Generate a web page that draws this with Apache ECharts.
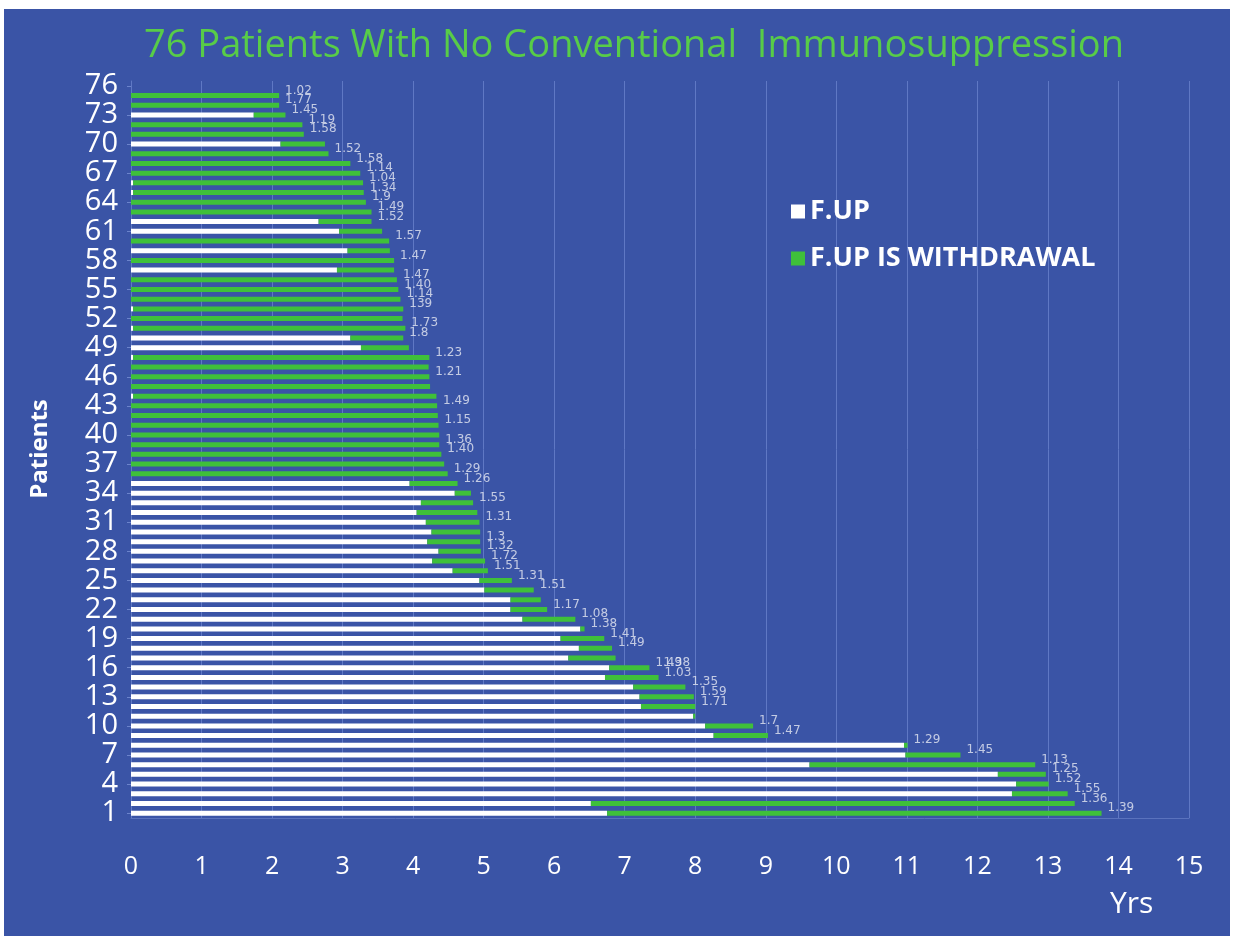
<!DOCTYPE html>
<html>
<head>
<meta charset="utf-8">
<script src="https://cdn.jsdelivr.net/npm/echarts@6/dist/echarts.min.js"></script>
<style>
  html, body { margin: 0; padding: 0; background: #ffffff; width: 1239px; height: 937px; overflow: hidden; }
  #chart { position: absolute; left: 4px; top: 9px; width: 1226px; height: 927px; }
</style>
</head>
<body>
<div id="chart"></div>
<script>
// Patients 1..76 (bottom to top)
const patients = ['1','2','3','4','5','6','7','8','9','10','11','12','13','14','15','16','17','18','19','20',
  '21','22','23','24','25','26','27','28','29','30','31','32','33','34','35','36','37','38','39','40',
  '41','42','43','44','45','46','47','48','49','50','51','52','53','54','55','56','57','58','59','60',
  '61','62','63','64','65','66','67','68','69','70','71','72','73','74','75','76'];

// White segment: F.UP (years)
const fup = [6.75, 6.52, 12.49, 12.55, 12.29, 9.62, 10.98, 10.96, 8.26, 8.14,
  7.97, 7.23, 7.21, 7.12, 6.72, 6.78, 6.20, 6.35, 6.09, 6.37,
  5.55, 5.38, 5.38, 5.01, 4.94, 4.56, 4.27, 4.36, 4.20, 4.26,
  4.18, 4.05, 4.11, 4.59, 3.95, 0, 0, 0, 0, 0,
  0, 0, 0, 0.03, 0, 0, 0, 0.03, 3.26, 3.11,
  0.03, 0, 0.03, 0, 0, 0, 2.92, 0, 3.07, 0,
  2.95, 2.66, 0, 0, 0.03, 0.03, 0, 0, 0, 2.12,
  0, 0, 1.74, 0, 0, 0];

// Green segment: F.UP IS WITHDRAWAL (years)
const withdrawal = [7.01, 6.86, 0.79, 0.46, 0.68, 3.20, 0.78, 0.05, 0.77, 0.68,
  0.03, 0.77, 0.77, 0.74, 0.76, 0.57, 0.67, 0.47, 0.62, 0.06,
  0.75, 0.52, 0.43, 0.70, 0.46, 0.50, 0.75, 0.60, 0.75, 0.69,
  0.76, 0.86, 0.74, 0.23, 0.68, 4.49, 4.44, 4.40, 4.37, 4.37,
  4.36, 4.35, 4.34, 4.30, 4.24, 4.23, 4.22, 4.20, 0.68, 0.75,
  3.86, 3.85, 3.83, 3.82, 3.79, 3.77, 0.81, 3.73, 0.60, 3.66,
  0.61, 0.75, 3.41, 3.33, 3.27, 3.26, 3.25, 3.11, 2.80, 0.63,
  2.45, 2.43, 0.45, 2.10, 2.10, 0];

// Small value labels next to bar ends
const valueLabels = ['1.39','1.36','1.55','1.52','1.25','1.13','1.45','1.29','1.47','1.7',
  null,'1.71','1.59','1.35','1.03','1.49',null,'1.49','1.41','1.38',
  '1.08','1.17',null,'1.51','1.31','1.51','1.72','1.32','1.3',null,
  '1.31',null,'1.55',null,'1.26','1.29',null,'1.40','1.36',null,
  '1.15',null,'1.49',null,null,'1.21',null,'1.23',null,'1.8',
  '1.73',null,'139','1.14','1.40','1.47',null,'1.47',null,'1.57',
  null,'1.52','1.49','1.9','1.34','1.04','1.14','1.58','1.52',null,
  '1.58','1.19','1.45','1.77','1.02',null];
// Second overlapping label (patient 16)
const extraLabels = new Array(76).fill(null);
extraLabels[15] = '1.38';

const xTicks = [0,1,2,3,4,5,6,7,8,9,10,11,12,13,14,15];

const labelPts = [];
const extraPts = [];
for (let i = 0; i < patients.length; i++) {
  const end = fup[i] + withdrawal[i];
  if (valueLabels[i]) labelPts.push([end, i, valueLabels[i]]);
  if (extraLabels[i]) extraPts.push([end, i, extraLabels[i]]);
}

const BG = '#3a54a6';
const GREEN = '#3fc03a';
const FONT = "'Open Sans', sans-serif";

const chart = echarts.init(document.getElementById('chart'), null, { renderer: 'canvas' });
chart.setOption({
  backgroundColor: BG,
  animation: false,
  title: {
    text: '76 Patients With No Conventional  Immunosuppression',
    left: 135,
    top: 13,
    textStyle: { color: '#58cc48', fontSize: 38, fontWeight: 'normal', fontFamily: FONT }
  },
  legend: {
    data: ['F.UP', 'F.UP IS WITHDRAWAL'],
    orient: 'vertical',
    left: 782,
    top: 184,
    itemWidth: 14,
    itemHeight: 14,
    itemGap: 20,
    icon: 'rect',
    textStyle: { color: '#ffffff', fontSize: 27, fontWeight: 'bold', fontFamily: FONT }
  },
  grid: { left: 127, top: 72, width: 1058, height: 737, containLabel: false },
  xAxis: {
    type: 'value',
    min: 0, max: 15, interval: 1,
    axisLine: { show: true, lineStyle: { color: '#5a72bd', width: 1 } },
    axisTick: { show: false },
    splitLine: { show: true, lineStyle: { color: '#5f78c4', width: 1 } },
    axisLabel: { color: '#ffffff', fontSize: 25, margin: 36, fontFamily: FONT }
  },
  yAxis: {
    type: 'category',
    data: patients,
    axisLine: { show: true, lineStyle: { color: '#5f78c4' } },
    axisTick: { show: true, length: 4, alignWithLabel: true, lineStyle: { color: '#6c84cc' } },
    axisLabel: {
      color: '#ffffff', fontSize: 29, margin: 13, fontFamily: FONT,
      interval: function (idx) { return idx % 3 === 0; }
    }
  },
  graphic: [
    { type: 'text', left: 1106, top: 880, style: { text: 'Yrs', fill: '#ffffff', font: "30px " + FONT } },
    { type: 'text', x: 36, y: 440, rotation: Math.PI / 2,
      style: { text: 'Patients', fill: '#ffffff', font: "bold 24px 'Open Sans', sans-serif", align: 'center', verticalAlign: 'middle' } }
  ],
  series: [
    {
      name: 'F.UP', type: 'bar', stack: 'total', data: fup, barWidth: 5,
      itemStyle: { color: '#ffffff' }
    },
    {
      name: 'F.UP IS WITHDRAWAL', type: 'bar', stack: 'total', data: withdrawal, barWidth: 5,
      itemStyle: { color: GREEN }
    },
    {
      name: 'labels', type: 'scatter', data: labelPts, symbolSize: 0, silent: true,
      label: {
        show: true, position: 'right', distance: 6, offset: [0, -5],
        color: '#e6e8f2', fontSize: 12, fontFamily: "'DejaVu Sans', sans-serif",
        formatter: function (p) { return p.value[2]; }
      }
    },
    {
      name: 'labels2', type: 'scatter', data: extraPts, symbolSize: 0, silent: true,
      label: {
        show: true, position: 'right', distance: 14, offset: [0, -5],
        color: '#e6e8f2', fontSize: 12, fontFamily: "'DejaVu Sans', sans-serif",
        formatter: function (p) { return p.value[2]; }
      }
    }
  ]
});
</script>
</body>
</html>
